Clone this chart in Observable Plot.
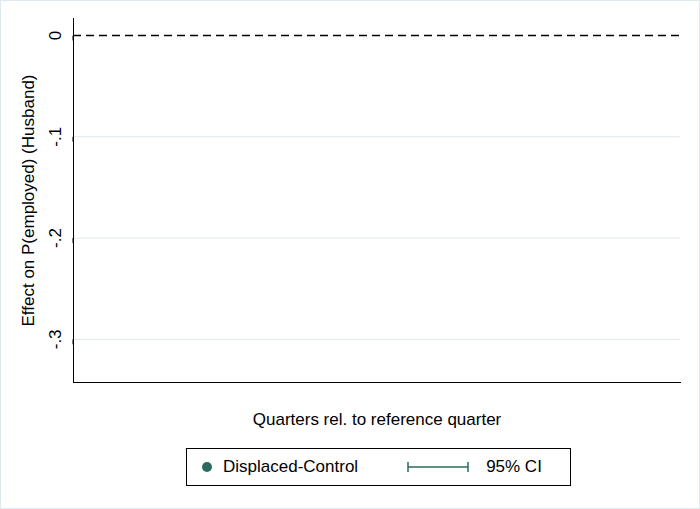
<!DOCTYPE html>
<html><head><meta charset="utf-8">
<script src="https://cdn.jsdelivr.net/npm/d3@7"></script>
<script src="https://cdn.jsdelivr.net/npm/@observablehq/plot@0.6"></script>
<style>
body{margin:0;background:#fff;font-family:"Liberation Sans",Arial,sans-serif;}
#wrap{position:relative;width:700px;height:509px;box-sizing:border-box;border:1px solid #dfe9ee;}
#legend{position:absolute;left:185px;top:447px;width:385px;height:38px;border:1px solid #000;box-sizing:border-box;display:flex;align-items:center;font-size:17px;}
</style></head><body>
<div id="wrap"><div id="chart"></div>
<div id="legend">
<svg width="30" height="20" style="margin-left:6px"><circle cx="14" cy="10" r="5" fill="#2a6b5f"/></svg>
<span>Displaced-Control</span>
<svg width="80" height="20" style="margin-left:38px"><line x1="12" x2="72" y1="10" y2="10" stroke="#2a6b5f" stroke-width="1.5"/><line x1="12" x2="12" y1="5" y2="15" stroke="#2a6b5f" stroke-width="1.5"/><line x1="72" x2="72" y1="5" y2="15" stroke="#2a6b5f" stroke-width="1.5"/></svg>
<span style="margin-left:10px">95% CI</span>
</div></div>
<script>
const quarters = d3.range(-20, 21);
const effects = [-0.008,-0.010,-0.009,-0.004,-0.003,-0.006,-0.002,0.001,-0.003,-0.001,-0.002,0.001,0.000,-0.003,-0.002,0,0,0,0,0,0,
 -0.329,-0.327,-0.251,-0.212,-0.193,-0.176,-0.163,-0.156,-0.154,-0.145,-0.139,-0.135,-0.136,-0.132,-0.126,-0.125,-0.127,-0.125,-0.122,-0.118];
const halfCI = [0.005,0.005,0.005,0.005,0.005,0.005,0.005,0.005,0.005,0.005,0.005,0.005,0.005,0.004,0.004,0.002,0.002,0.002,0.002,0.002,0,
 0.005,0.006,0.006,0.006,0.006,0.006,0.006,0.006,0.006,0.006,0.006,0.006,0.006,0.006,0.006,0.006,0.006,0.006,0.007,0.007];
const xTicks = d3.range(-20, 21, 4);
const yTicks = [0, -0.1, -0.2, -0.3];
const data = quarters.map((q, i) => ({q, e: effects[i], lo: effects[i] - halfCI[i], hi: effects[i] + halfCI[i]}));
const ci = data.filter(d => d.hi > d.lo);
const col = "#2a6b5f";
const fmt = d => d === 0 ? "0" : String(d).replace("0.", ".");
const chart = Plot.plot({
  width: 698, height: 507,
  marginLeft: 72, marginRight: 19, marginTop: 17, marginBottom: 126,
  style: {fontFamily: "Liberation Sans, Arial, sans-serif", fontSize: "17px", color: "#000"},
  x: {domain: [-21.03, 20.66], label: null},
  y: {domain: [-0.3426, 0.0168], label: null},
  marks: [
    Plot.gridY(yTicks.filter(d => d !== 0), {stroke: "#dde8ec", strokeOpacity: 1}),
    Plot.ruleY([0], {stroke: "#000", strokeDasharray: "8,5", strokeWidth: 1.3}),
    Plot.ruleX([0], {stroke: "#000", strokeWidth: 1.3}),
    Plot.frame({anchor: "left", stroke: "#000"}),
    Plot.frame({anchor: "bottom", stroke: "#000"}),
    Plot.axisX(xTicks, {tickSize: 5, tickPadding: 3, fontSize: 17, label: "Quarters rel. to reference quarter", labelAnchor: "center", labelArrow: "none", labelOffset: 42}),
    Plot.axisY(yTicks, {tickSize: 5, tickFormat: fmt, rotate: -90, textAnchor: "middle", tickPadding: 13, fontSize: 17, label: "Effect on P(employed) (Husband)", labelAnchor: "center", labelArrow: "none", labelOffset: 52}),
    Plot.ruleX(ci, {x: "q", y1: "lo", y2: "hi", stroke: col, strokeWidth: 1.3}),
    Plot.tickY(ci, {x: "q", y: "lo", stroke: col, strokeWidth: 1.5, dx: 0}),
    Plot.dot(data, {x: "q", y: "e", r: 4.8, fill: col, stroke: "none"})
  ]
});
document.getElementById("chart").append(chart);
</script></body></html>
